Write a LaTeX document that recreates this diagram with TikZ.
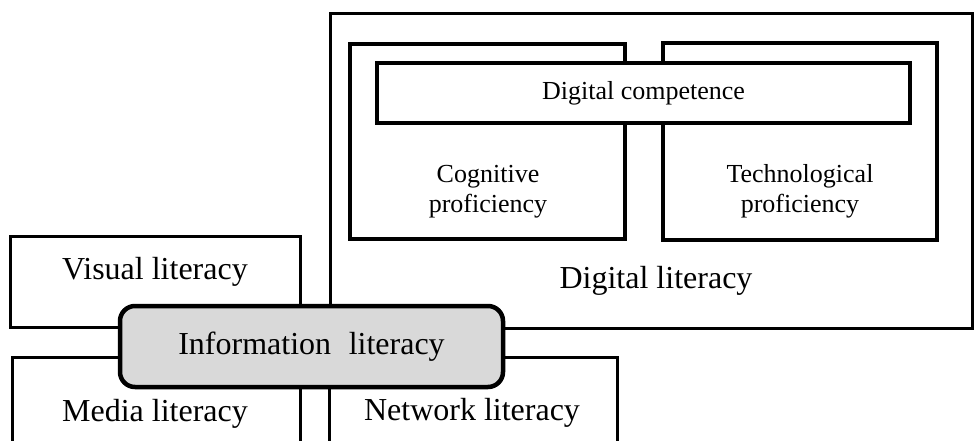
\documentclass[tikz,border=0pt]{standalone}
\usepackage{fontspec}
\setmainfont{Liberation Serif}
\usetikzlibrary{positioning}
\tikzset{
  thinbox/.style={rectangle, draw=black, line width=3pt, fill=white, inner sep=0pt, outer sep=0pt},
  thickbox/.style={rectangle, draw=black, line width=4.5pt, fill=white, inner sep=0pt, outer sep=0pt},
  infobox/.style={rectangle, rounded corners=15pt, draw=black, line width=4.5pt, fill=gray!30, inner sep=0pt, outer sep=0pt, font=\fontsize{32}{36}\selectfont},
  bigtext/.style={font=\fontsize{32}{36}\selectfont, inner sep=0pt},
  smalltext/.style={font=\fontsize{26}{30}\selectfont, align=center, inner sep=0pt}
}

\begin{document}
\begin{tikzpicture}[x=1pt, y=-1pt]
  \path[use as bounding box, clip] (0,0) rectangle (974,441);
  \node[thinbox, minimum width=642, minimum height=314] (dlbox) at (651,171) {};
  \node[thickbox, minimum width=275, minimum height=195] (cogbox) at (487.5,141.5) {};
  \node[thickbox, minimum width=274, minimum height=197] (techbox) at (800,141.5) {};
  \node[thickbox, minimum width=533, minimum height=60, smalltext] (dcbox) at (643.5,93) {Digital competence};
  \node[thinbox, minimum width=290, minimum height=91] (visbox) at (155,281.5) {};
  \node[thinbox, minimum width=288, minimum height=103] (medbox) at (156,408.5) {};
  \node[thinbox, minimum width=288, minimum height=103] (netbox) at (473,408.5) {};
  \node[infobox, minimum width=383, minimum height=81] (infolit) at (311.5,346.5) {Information\hspace{0.3em} literacy};
  \node[smalltext] (cogtext) at (488,192) {Cognitive\\proficiency};
  \node[smalltext] (techtext) at (800,191) {Technological\\proficiency};
  \node[bigtext] (dltext) at (656,281) {Digital literacy};
  \node[bigtext] (vistext) at (155,272) {Visual literacy};
  \node[bigtext] (medtext) at (155,414) {Media literacy};
  \node[bigtext] (nettext) at (472,413) {Network literacy};
\end{tikzpicture}
\end{document}
